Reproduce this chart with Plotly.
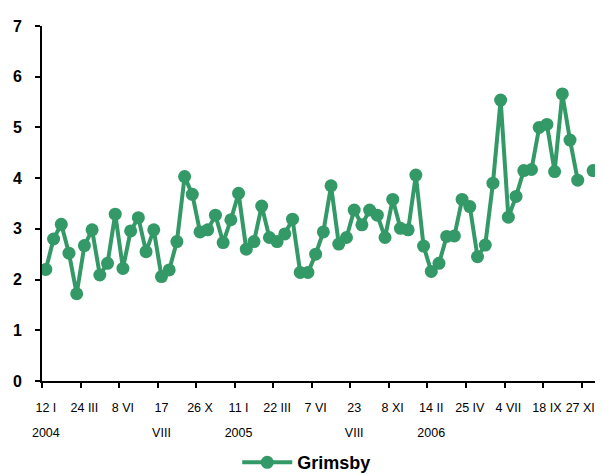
import plotly.graph_objects as go

# Category index (1..72); labels every 5th category
values = [2.20, 2.80, 3.09, 2.52, 1.72, 2.67, 2.98, 2.09, 2.32, 3.29,
          2.22, 2.96, 3.22, 2.55, 2.98, 2.06, 2.19, 2.75, 4.03, 3.68,
          2.94, 2.98, 3.27, 2.73, 3.18, 3.70, 2.60, 2.75, 3.45, 2.83,
          2.75, 2.90, 3.19, 2.14, 2.14, 2.50, 2.94, 3.85, 2.70, 2.83,
          3.37, 3.08, 3.37, 3.27, 2.83, 3.58, 3.01, 2.98, 4.06, 2.66,
          2.16, 2.32, 2.85, 2.86, 3.58, 3.44, 2.45, 2.68, 3.90, 5.54,
          3.23, 3.64, 4.15, 4.17, 5.00, 5.06, 4.13, 5.66, 4.75, 3.96,
          None, 4.15]
categories = list(range(1, len(values) + 1))

tick_positions = [1, 6, 11, 16, 21, 26, 31, 36, 41, 46, 51, 56, 61, 66, 71]
tick_labels = ["12 I<br>2004", "24 III", "8 VI", "17<br>VIII", "26 X",
               "11 I<br>2005", "22 III", "7 VI", "23<br>VIII", "8 XI",
               "14 II<br>2006", "25 IV", "4 VII", "18 IX", "27 XI"]
boundary_ticks = [p - 0.5 for p in tick_positions]

y_ticks = [0, 1, 2, 3, 4, 5, 6, 7]

green = "#339966"

def style_label(t):
    s = "<span style='font-size:12.5px'>" + t.replace("<br>", "</span><br><span style='font-size:12.5px'>") + "</span>"
    return s

styled_labels = [style_label(t) for t in tick_labels]
# the last label sits against the right edge; pad it so it shifts left
styled_labels[-1] = style_label(tick_labels[-1] + "&nbsp;" * 3)

fig = go.Figure()
fig.add_trace(go.Scatter(
    x=categories, y=values, mode="lines+markers", name="Grimsby",
    line=dict(color=green, width=4),
    marker=dict(color=green, size=13),
    connectgaps=False,
))

fig.update_layout(
    width=595, height=467,
    margin=dict(l=34, r=6, t=18, b=94, autoexpand=False),
    paper_bgcolor="white", plot_bgcolor="white",
    font=dict(family="Liberation Sans, Arial", color="black"),
    showlegend=True,
    legend=dict(orientation="h", x=0.477, xanchor="center", y=-0.23, yanchor="middle",
                itemwidth=50,
                font=dict(size=18, family="Liberation Sans, Arial", weight="bold")),
    xaxis=dict(
        range=[0.5, 72.5], tickmode="array", tickvals=tick_positions, ticktext=styled_labels,
        ticks="", showgrid=False, zeroline=False, automargin=False,
        showline=True, linecolor="black", linewidth=2,
        tickfont=dict(size=19), tickangle=0, ticklabelstandoff=6,
        ticklabeloverflow="allow",
        minor=dict(tickmode="array", tickvals=boundary_ticks, ticks="outside",
                   ticklen=5, tickwidth=2, tickcolor="black", showgrid=False),
    ),
    yaxis=dict(
        range=[0, 7], tickmode="array", tickvals=y_ticks, automargin=False,
        ticks="outside", ticklen=5, tickwidth=2, tickcolor="black",
        showgrid=False, zeroline=False, ticklabelstandoff=10,
        showline=True, linecolor="black", linewidth=2,
        tickfont=dict(size=16, weight="bold"),
    ),
)

fig.write_html("out.html")
